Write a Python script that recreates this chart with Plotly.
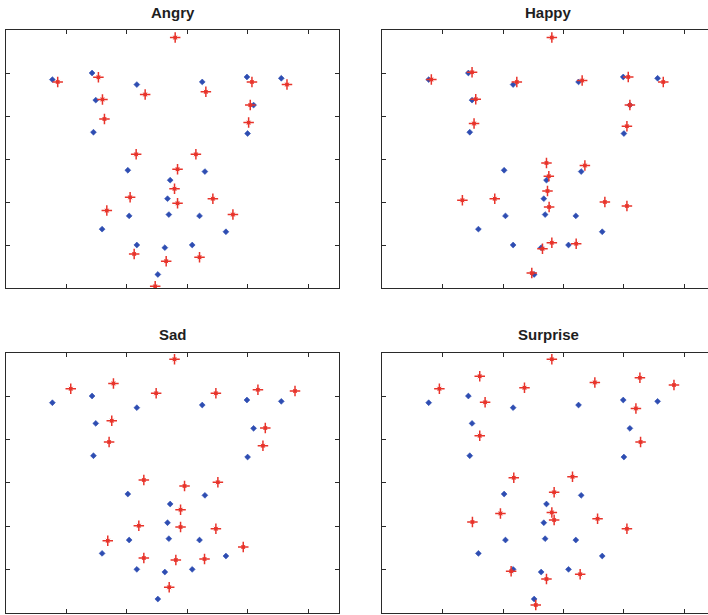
import plotly.graph_objects as go

# Neutral-face landmark positions (shared by every panel)
neutral_x = [0.768, 1.425, 2.166, 3.249, 3.989, 4.558, 1.486, 1.448, 4.099, 4.000,
             2.017, 2.718, 3.293, 2.674, 2.039, 2.696, 3.204, 1.591, 3.641, 2.166,
             2.630, 3.083, 2.514]
neutral_y = [4.846, 5.000, 4.731, 4.792, 4.908, 4.877, 4.369, 3.623, 4.254, 3.592,
             2.738, 2.508, 2.708, 2.077, 1.677, 1.708, 1.677, 1.369, 1.308, 1.000,
             0.938, 1.000, 0.315]

# Expression landmark positions
angry_x = [2.801, 0.856, 1.530, 2.304, 3.309, 4.072, 4.652, 1.597, 1.630, 4.044,
           4.017, 2.155, 3.144, 2.840, 2.790, 2.055, 2.840, 3.425, 1.669, 3.757,
           2.122, 2.652, 3.204, 2.470]
angry_y = [5.823, 4.792, 4.900, 4.500, 4.562, 4.792, 4.731, 4.385, 3.931, 4.254,
           3.846, 3.108, 3.108, 2.762, 2.308, 2.108, 1.969, 2.077, 1.800, 1.708,
           0.792, 0.623, 0.715, 0.038]

happy_x = [2.807, 0.812, 1.486, 2.227, 3.309, 4.072, 4.652, 1.547, 1.519, 4.099,
           4.050, 2.718, 3.354, 2.757, 2.735, 1.326, 1.862, 2.762, 3.685, 4.050,
           2.652, 2.807, 3.210, 2.475]
happy_y = [5.823, 4.846, 5.015, 4.792, 4.823, 4.908, 4.792, 4.392, 3.823, 4.254,
           3.762, 2.908, 2.846, 2.600, 2.254, 2.038, 2.077, 1.885, 2.000, 1.908,
           0.915, 1.054, 1.031, 0.346]

sad_x = [2.790, 1.072, 1.779, 2.486, 3.475, 4.171, 4.785, 1.751, 1.707, 4.293,
         4.254, 2.282, 2.956, 3.508, 2.890, 2.199, 2.890, 3.475, 1.685, 3.928,
         2.282, 2.812, 3.287, 2.702]
sad_y = [5.846, 5.169, 5.292, 5.062, 5.062, 5.146, 5.115, 4.431, 3.938, 4.262,
         3.854, 3.062, 2.923, 3.008, 2.377, 2.008, 1.977, 1.938, 1.662, 1.515,
         1.262, 1.215, 1.238, 0.585]

surprise_x = [2.807, 0.945, 1.613, 2.354, 3.519, 4.265, 4.829, 1.702, 1.613, 4.199,
              4.276, 2.177, 3.149, 2.845, 2.807, 1.956, 2.845, 3.564, 1.492, 4.050,
              2.133, 2.718, 3.276, 2.541]
surprise_y = [5.846, 5.169, 5.454, 5.192, 5.315, 5.423, 5.254, 4.854, 4.085, 4.715,
              3.938, 3.115, 3.138, 2.777, 2.315, 2.292, 2.138, 2.169, 2.092, 1.938,
              0.954, 0.777, 0.885, 0.177]

titles = ["Angry", "Happy", "Sad", "Surprise"]
expr_x = [angry_x, happy_x, sad_x, surprise_x]
expr_y = [angry_y, happy_y, sad_y, surprise_y]

W, H = 708, 615
BLUE = "#2E4DB2"
RED = "#E8342B"
AXIS = "#2a2a2a"

# panel boxes in pixels: (left, top, right, bottom)
left_px = [6, 382.3, 6, 382.3]
right_px = [339, 708, 339, 708]
top_px = [30, 30, 352.7, 352.7]
bot_px = [288, 288, 612.7, 612.7]
unit_x = 60.4  # pixels per x unit
x_max = [(r - l) / unit_x for l, r in zip(left_px, right_px)]
title_cx = [172.5, 548, 172.5, 548]
title_cy = [12.5, 12.5, 334.5, 334.5]

fig = go.Figure()
layout = dict(
    width=W, height=H,
    margin=dict(l=0, r=0, t=0, b=0),
    paper_bgcolor="white", plot_bgcolor="white",
    showlegend=False,
    annotations=[],
)

for i in range(4):
    sx = "" if i == 0 else str(i + 1)
    ax = dict(xaxis="x" + sx, yaxis="y" + sx, mode="markers", hoverinfo="skip")
    fig.add_trace(go.Scatter(
        x=neutral_x, y=neutral_y,
        marker=dict(symbol="diamond", size=4.5, color=BLUE,
                    line=dict(width=0.6, color=BLUE)),
        **ax,
    ))
    # star marker: strong "+" arms, faint short diagonals, filled centre
    fig.add_trace(go.Scatter(
        x=expr_x[i], y=expr_y[i],
        marker=dict(symbol="x-thin-open", size=4, color=RED, opacity=0.6,
                    line=dict(width=1, color=RED)),
        **ax,
    ))
    fig.add_trace(go.Scatter(
        x=expr_x[i], y=expr_y[i],
        marker=dict(symbol="cross-thin-open", size=7.5, color=RED,
                    line=dict(width=1.5, color=RED)),
        **ax,
    ))
    fig.add_trace(go.Scatter(
        x=expr_x[i], y=expr_y[i],
        marker=dict(symbol="square", size=3.5, color=RED, line=dict(width=0)),
        **ax,
    ))

    xd = [left_px[i] / W, right_px[i] / W]
    yd = [1 - bot_px[i] / H, 1 - top_px[i] / H]
    right_cut = right_px[i] >= W
    layout["xaxis" + sx] = dict(
        domain=xd, range=[0, x_max[i]], anchor="y" + sx,
        showline=True, linecolor=AXIS, linewidth=1.2, mirror="ticks",
        ticks="inside", ticklen=4, tickwidth=1, tickcolor=AXIS,
        tickvals=[1, 2, 3, 4, 5], showticklabels=False,
        showgrid=False, zeroline=False, fixedrange=True,
    )
    layout["yaxis" + sx] = dict(
        domain=yd, range=[0, 6], anchor="x" + sx,
        showline=True, linecolor=AXIS, linewidth=1.2,
        mirror=False if right_cut else "ticks",
        ticks="inside", ticklen=4, tickwidth=1, tickcolor=AXIS,
        tickvals=[1, 2, 3, 4, 5], showticklabels=False,
        showgrid=False, zeroline=False, fixedrange=True,
    )
    layout["annotations"].append(dict(
        text="<b>%s</b>" % titles[i], xref="paper", yref="paper",
        x=title_cx[i] / W, y=1 - title_cy[i] / H,
        xanchor="center", yanchor="middle", showarrow=False,
        font=dict(family="Liberation Sans, Arial, sans-serif", size=15, color="#1e1e1e"),
    ))

fig.update_layout(**layout)
fig.write_html("out.html")
